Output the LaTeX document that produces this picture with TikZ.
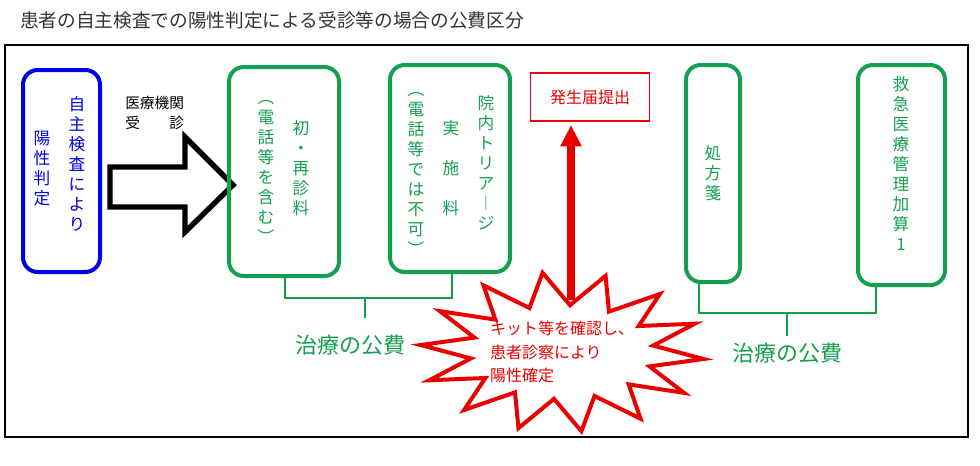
\documentclass[tikz,border=0pt]{standalone}
\usepackage{fontspec}
\setmainfont{Noto Sans CJK JP}
\usetikzlibrary{positioning,arrows.meta}
\definecolor{kgreen}{RGB}{20,160,80}
\definecolor{kblue}{RGB}{0,0,230}
\definecolor{kred}{RGB}{235,0,0}
\tikzset{
  gbox/.style={draw=kgreen, line width=3pt, rounded corners=11pt},
  vcol/.style={align=center, inner sep=0pt, anchor=north, font=\fontsize{12.5}{15}\selectfont},
  brace/.style={draw=kgreen, line width=2.2pt},
}
\begin{document}
\begin{tikzpicture}[x=0.75pt,y=-0.75pt]
    \useasboundingbox (0,0) rectangle (980,465);
    \node [anchor=west, inner sep=0pt, font=\fontsize{14}{16}\selectfont, text=black!80] (title) at (20,20) {患者の自主検査での陽性判定による受診等の場合の公費区分};
    \draw [line width=1.5pt] (5,45) rectangle (968,437);

    % left side
    \draw [draw=kblue, line width=3pt, rounded corners=11pt] (23,70) rectangle (100,272);
    \node [vcol, text=kblue] (jishu) at (77,96) {自\\主\\検\\査\\に\\よ\\り};
    \node [vcol, text=kblue] (yosei) at (42,131) {陽\\性\\判\\定};
    \node [anchor=west, inner sep=0pt, font=\fontsize{11}{13}\selectfont] (kikan) at (125,103) {医療機関};
    \node [anchor=west, inner sep=0pt, font=\fontsize{11}{13}\selectfont] (jushin) at (125,123) {受　　診};
    \draw [line width=4pt, line join=miter] (110,167) -- (185,167) -- (185,137) -- (233,185)
        -- (185,232) -- (185,207) -- (110,207) -- cycle;

    % green boxes
    \draw [gbox] (229,67) rectangle (339,276);
    \node [vcol, text=kgreen] (shoshin) at (301,120) {初\\・\\再\\診\\料};
    \node [vcol, text=kgreen] (denwa1) at (266,100) {︵\\電\\話\\等\\を\\含\\む\\︶};
    \draw [gbox] (390,65) rectangle (510,272);
    \node [vcol, text=kgreen] (triage) at (486,95) {院\\内\\ト\\リ\\ア\\︱\\ジ};
    \node [vcol, text=kgreen] (jisshi) at (451,120) {実\\[15pt]施\\[15pt]料};
    \node [vcol, text=kgreen] (denwa2) at (416,92) {︵\\電\\話\\等\\で\\は\\不\\可\\︶};
    \draw [gbox] (686,65) rectangle (740,282);
    \node [vcol, text=kgreen] (shoho) at (713,145) {処\\方\\箋};
    \draw [gbox] (858,65) rectangle (945,285);
    \node [vcol, text=kgreen] (kyukyu) at (901,76) {救\\急\\医\\療\\管\\理\\加\\算\\1};

    % braces
    \draw [brace] (285,276) -- (285,298) -- (452,298) -- (452,272);
    \draw [brace] (365,298) -- (365,318);
    \node [text=kgreen, font=\fontsize{16.5}{18}\selectfont, inner sep=0pt] (kohi1) at (350,345) {治療の公費};
    \draw [brace] (699,282) -- (699,313) -- (876,313) -- (876,285);
    \draw [brace] (787,313) -- (787,336);
    \node [text=kgreen, font=\fontsize{16.5}{18}\selectfont, inner sep=0pt] (kohi2) at (787,353) {治療の公費};

    % red part
    \node [draw=kred, line width=1pt, text=kred, minimum width=89pt, minimum height=36pt,
        font=\fontsize{12}{14}\selectfont] (hassei) at (590,97) {発生届提出};
    \coordinate (burst) at (562,352);
    \draw [kred, line width=6pt, -{Triangle[length=16pt,width=15pt]}] (571,300) -- (571,125);
    \draw [kred, line width=3pt, fill=white, line join=miter] plot [samples=28, domain=0:27]
        ({562+(mod(round(\x),2)==0 ? 142 : 92)*cos(\x*360/28+5)},
         {352+(mod(round(\x),2)==0 ? 80 : 47)*sin(\x*360/28+5)}) -- cycle;
    \node [text=kred, align=left, font=\fontsize{12}{17.5}\selectfont, inner sep=0pt] (kakutei) at (burst)
        {キット等を確認し、\\患者診察により\\陽性確定};
\end{tikzpicture}
\end{document}
